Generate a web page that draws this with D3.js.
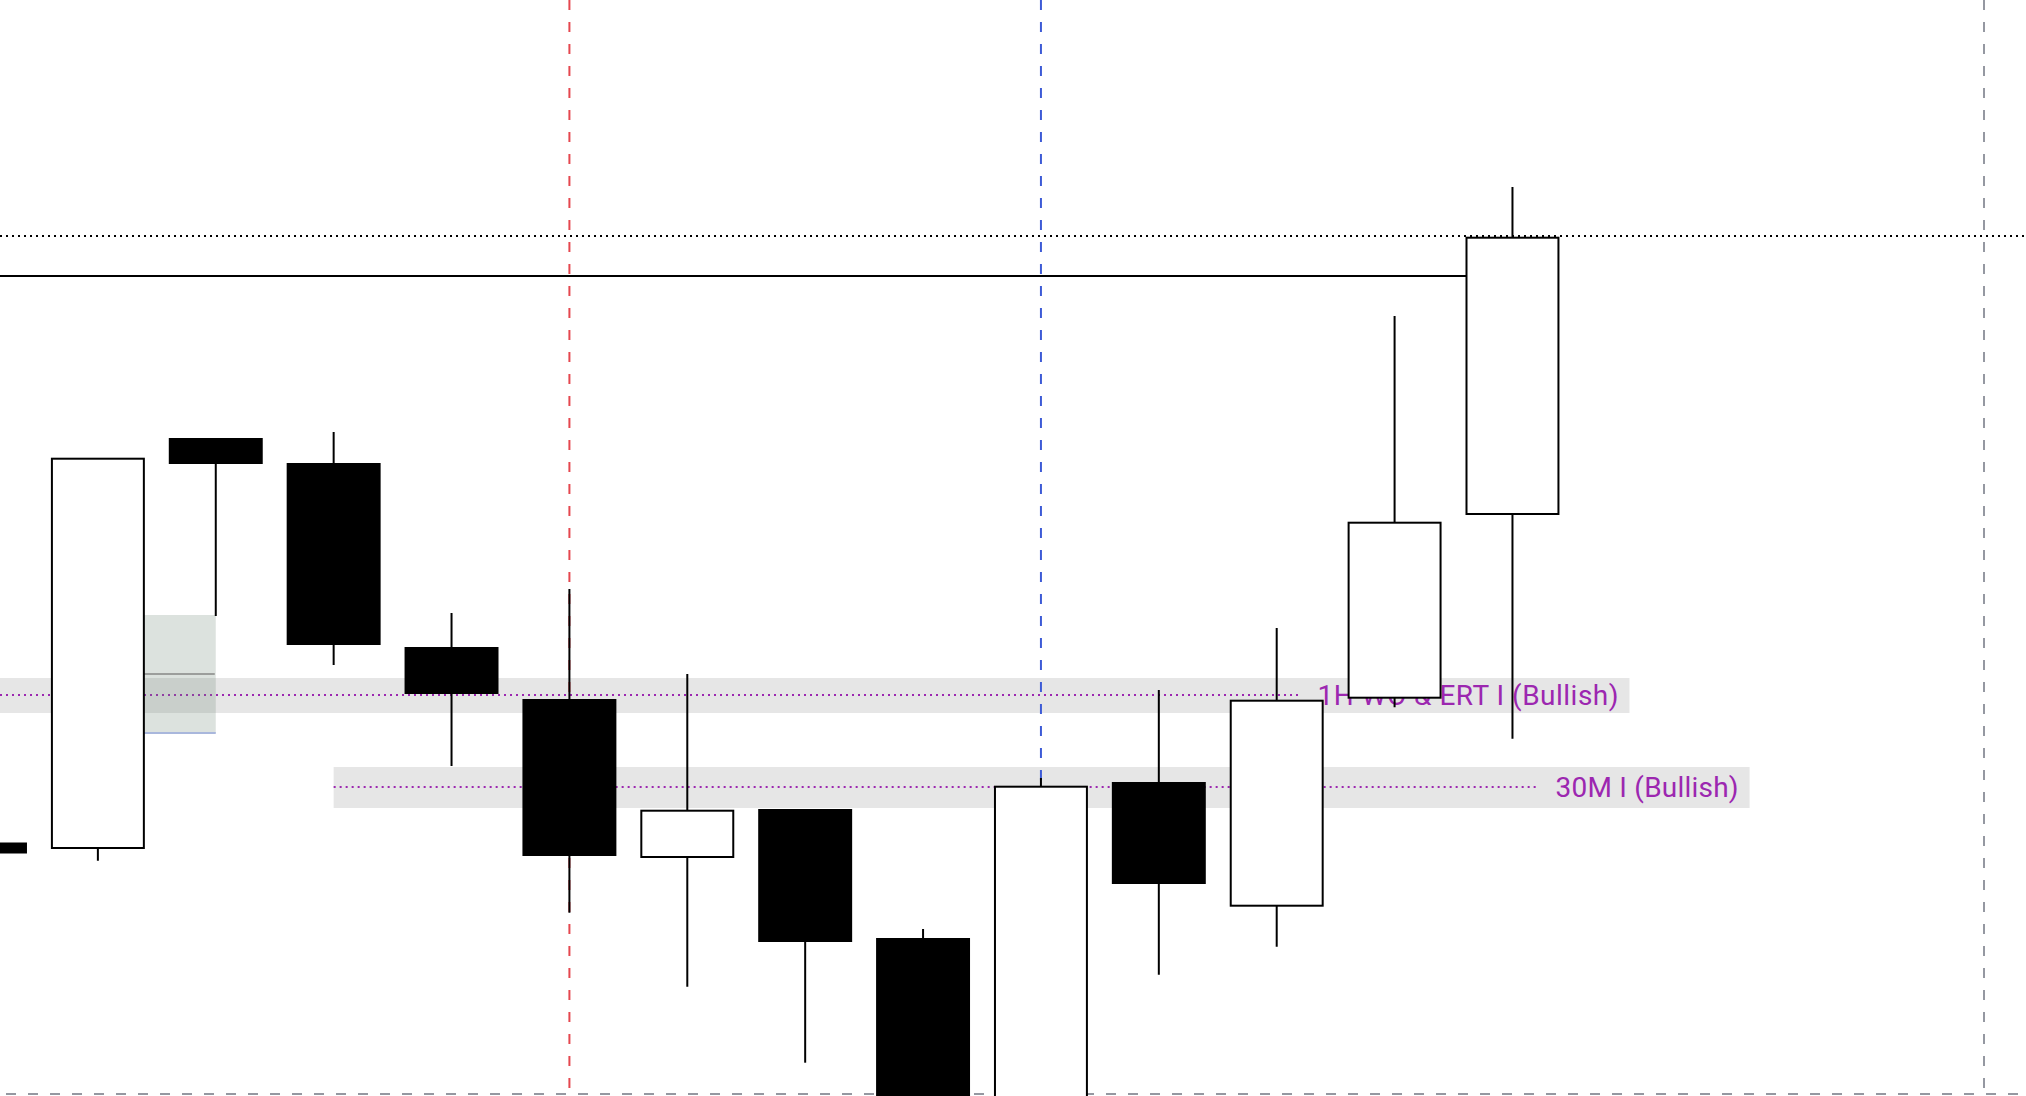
<!DOCTYPE html>
<html>
<head>
<meta charset="utf-8">
<script src="https://cdn.jsdelivr.net/npm/d3@7"></script>
<style>
  html, body { margin: 0; padding: 0; background: #ffffff; overflow: hidden; }
  svg { display: block; }
</style>
</head>
<body>
<svg id="chart" width="2026" height="1096"></svg>
<script>
// ---- Data ----
const candleIndex = [0, 1, 2, 3, 4, 5, 6, 7, 8, 9, 10, 11, 12, 13];
const opens  = [115.65, 115.2, 156.1, 153.6, 135.2, 130.0, 114.3, 119.0, 106.1, 84.0, 121.7, 109.43, 130.23, 148.6];
const highs  = [115.7, 154.13, 156.1, 156.8, 138.7, 141.1, 132.6, 119.0, 107.1, 122.2, 131.0, 137.2, 168.4, 181.3];
const lows   = [114.7, 113.93, 138.4, 133.5, 123.4, 108.73, 101.33, 93.73, 82.0, 81.0, 102.53, 105.33, 129.27, 126.13];
const closes = [114.75, 154.13, 153.7, 135.6, 130.7, 114.5, 118.93, 105.9, 85.0, 121.33, 111.7, 129.93, 147.73, 176.23];

// horizontal levels
const dottedLevel = [176.4];          // black dotted, full width
const solidLevel = [172.4];           // black solid, up to last candle
const solidLevelEnd = [13];

// zones with labels
const zoneLabels = ["1H WO & ERT I (Bullish)", "30M I (Bullish)"];
const zoneLabelWidth = [301, 183];
const zoneTop    = [132.2, 123.3];
const zoneBottom = [128.7, 119.2];
const zoneMid    = [130.5, 121.3];
const zoneStart  = [-0.2, 3];
const zoneLineEnd = [11.21, 13.23];

// small box
const boxIndex = [1.39, 2.0];
const boxPrice = [138.5, 126.7];
const boxMid = [132.6];

// vertical markers
const redMarker = [5];
const blueMarker = [9];
const grayMarker = [17];
const grayLevel = [90.6];

// ---- Scales ----
const W = 2026, H = 1096;
const x = d3.scaleLinear().domain([0, 17]).range([-20, 1984]);
const y = d3.scaleLinear().domain([200, 90.4]).range([0, H]);
const step = x(1) - x(0);
const bodyW = step * 0.78;

const svg = d3.select("#chart");
svg.append("rect").attr("width", W).attr("height", H).attr("fill", "#ffffff");

// ---- zones (bands) ----
const zones = zoneLabels.map((t, i) => ({ t, w: zoneLabelWidth[i], top: zoneTop[i], bot: zoneBottom[i], mid: zoneMid[i], s: zoneStart[i], e: zoneLineEnd[i] }));
const zg = svg.append("g");
zones.forEach(z => {
  const band = zg.append("rect")
    .attr("x", Math.max(0, x(z.s)))
    .attr("y", y(z.top))
    .attr("height", y(z.bot) - y(z.top))
    .attr("fill", "#e6e6e6");
  zg.append("line")
    .attr("x1", Math.max(0, x(z.s))).attr("x2", x(z.e))
    .attr("y1", y(z.mid)).attr("y2", y(z.mid))
    .attr("stroke", "#9c27b0").attr("stroke-width", 2)
    .attr("stroke-dasharray", "2,4");
  const tx = x(z.e) + 16;
  zg.append("text")
    .attr("x", tx)
    .attr("y", y(z.mid) + 10.2)
    .attr("font-family", "Roboto, 'Noto Sans', sans-serif")
    .attr("font-size", 28)
    .attr("fill", "#9c27b0")
    .attr("textLength", z.w)
    .attr("lengthAdjust", "spacing")
    .text(z.t);
  band.attr("width", tx + z.w + 11 - Math.max(0, x(z.s)));
});

// ---- box ----
svg.append("rect")
  .attr("x", x(boxIndex[0])).attr("width", x(boxIndex[1]) - x(boxIndex[0]))
  .attr("y", y(boxPrice[0])).attr("height", y(boxPrice[1]) - y(boxPrice[0]))
  .attr("fill", "rgba(110,135,115,0.24)");
svg.append("line")
  .attr("x1", x(boxIndex[0])).attr("x2", x(boxIndex[1]) - 1)
  .attr("y1", y(boxMid[0])).attr("y2", y(boxMid[0]))
  .attr("stroke", "#9c9e9c").attr("stroke-width", 2);
svg.append("line")
  .attr("x1", x(boxIndex[0])).attr("x2", x(boxIndex[1]))
  .attr("y1", y(boxPrice[1])).attr("y2", y(boxPrice[1]))
  .attr("stroke", "#a9b7dc").attr("stroke-width", 2);

// ---- vertical markers ----
const vlines = [
  { i: redMarker[0], c: "#e5474f" },
  { i: blueMarker[0], c: "#3d5bd6" },
  { i: grayMarker[0], c: "#9598a1" }
];
vlines.forEach(v => {
  svg.append("line")
    .attr("x1", x(v.i)).attr("x2", x(v.i))
    .attr("y1", 0).attr("y2", H)
    .attr("stroke", v.c).attr("stroke-width", 2)
    .attr("stroke-dasharray", "10,12");
});
svg.append("line")
  .attr("x1", 0).attr("x2", W)
  .attr("y1", y(grayLevel[0])).attr("y2", y(grayLevel[0]))
  .attr("stroke", "#9598a1").attr("stroke-width", 2)
  .attr("stroke-dasharray", "10,12")
  .attr("stroke-dashoffset", -6);

// ---- horizontal black lines ----
svg.append("line")
  .attr("x1", 0).attr("x2", W)
  .attr("y1", y(dottedLevel[0])).attr("y2", y(dottedLevel[0]))
  .attr("stroke", "#000").attr("stroke-width", 2)
  .attr("stroke-dasharray", "2,4");
svg.append("line")
  .attr("x1", 0).attr("x2", x(solidLevelEnd[0]) - bodyW / 2)
  .attr("y1", y(solidLevel[0])).attr("y2", y(solidLevel[0]))
  .attr("stroke", "#000").attr("stroke-width", 2);

// ---- candles ----
const candles = candleIndex.map((d, i) => ({ i: d, o: opens[i], h: highs[i], l: lows[i], c: closes[i] }));
const cg = svg.append("g").selectAll("g").data(candles).join("g");
cg.append("line")
  .attr("x1", d => x(d.i)).attr("x2", d => x(d.i))
  .attr("y1", d => y(d.h)).attr("y2", d => y(d.l))
  .attr("stroke", "#000").attr("stroke-width", 2);
cg.append("rect")
  .attr("x", d => x(d.i) - bodyW / 2)
  .attr("width", bodyW)
  .attr("y", d => y(Math.max(d.o, d.c)))
  .attr("height", d => Math.max(1, Math.abs(y(d.o) - y(d.c))))
  .attr("fill", d => d.c >= d.o ? "#ffffff" : "#000000")
  .attr("stroke", "#000").attr("stroke-width", 2);
</script>
</body>
</html>
